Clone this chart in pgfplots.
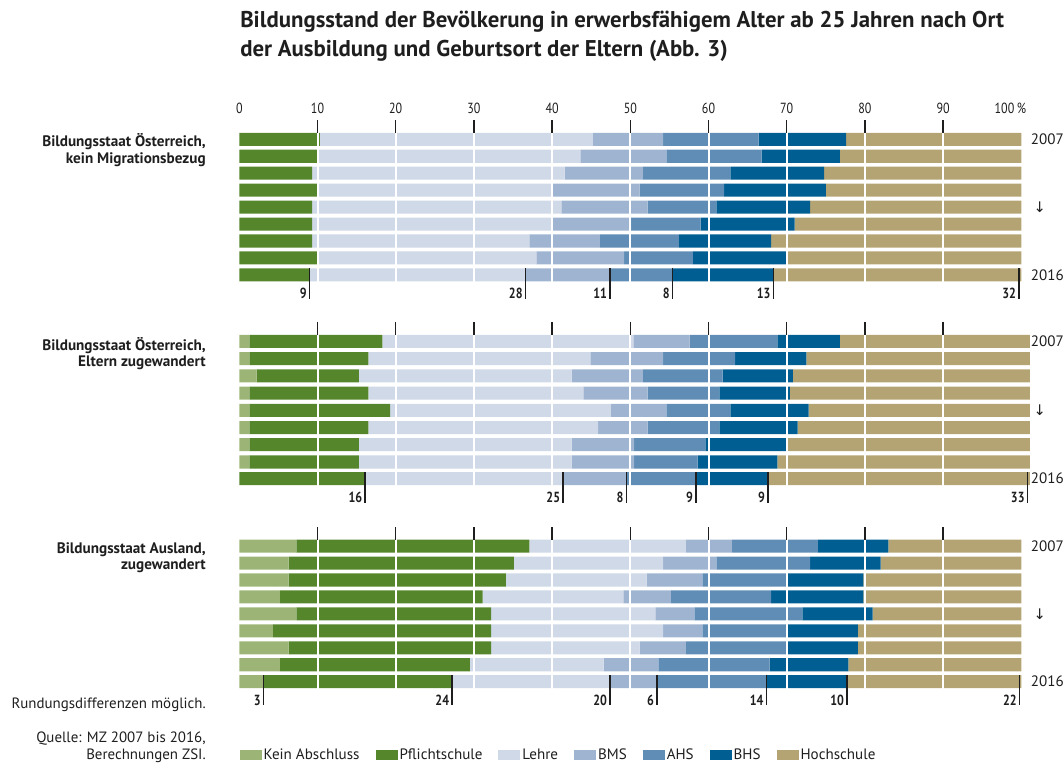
\documentclass[border=0pt]{standalone}
\usepackage{fontspec}
\setmainfont{PT Sans}
\newfontfamily\numfont{PT Sans}[FakeStretch=0.82]
\newfontfamily\symfont{DejaVu Sans}
\usepackage{pgfplots}
\pgfplotsset{compat=1.18}
\usepackage{pgfplotstable}

\definecolor{cKein}{HTML}{9CB576}
\definecolor{cPfl}{HTML}{55862B}
\definecolor{cLehre}{HTML}{D0D9E8}
\definecolor{cBMS}{HTML}{9EB4D1}
\definecolor{cAHS}{HTML}{5F8DB6}
\definecolor{cBHS}{HTML}{005E92}
\definecolor{cHoch}{HTML}{B5A473}
\definecolor{txt}{HTML}{1E1E1E}

% y = bar position (group 1: 2007..2016, group 2, group 3)
\pgfplotstableread{
y kein pfl lehre bms ahs bhs hoch
0 0 10.3 34.9 9.0 12.2 11.2 22.4
1 0 10.1 33.5 11.0 12.2 10.0 23.2
2 0 9.3 32.3 10.0 11.2 12.0 25.2
3 0 10.1 30.0 11.1 10.8 13.0 25.0
4 0 9.3 31.9 11.0 8.8 12.0 27.0
5 0 9.3 30.8 10.0 8.9 12.0 29.0
6 0 9.3 27.8 9.0 10.1 11.8 32.0
7 0 10.1 27.9 11.2 8.8 12.0 30.0
8 0 9.0 27.6 10.8 8.0 12.9 31.7
11.92 1.3 17.0 32.1 7.2 11.2 8.0 24.3
12.94 1.3 15.2 28.4 9.3 9.2 9.1 28.6
13.96 2.2 13.1 27.2 9.1 10.2 9.0 30.3
14.98 1.3 15.2 27.5 8.2 9.2 9.0 30.7
15.99 1.3 18.0 28.2 7.1 8.2 10.0 28.3
17.01 1.3 15.2 29.4 6.3 9.2 10.0 29.7
18.01 1.3 14.0 27.2 8.0 9.1 10.3 31.2
19.04 1.3 14.0 27.2 8.0 8.1 10.2 32.3
20.02 0 16.1 25.3 8.1 8.9 9.2 33.5
24 7.3 29.8 20.0 5.9 11.0 9.0 17.0
25 6.3 28.8 19.1 6.8 12.0 9.0 18.0
26 6.3 27.8 18.0 7.1 10.7 9.9 20.2
27 5.2 25.9 18.0 6.1 12.8 11.8 20.2
28 7.3 24.9 21.0 5.0 13.8 9.0 19.0
29 4.3 27.9 22.0 5.0 10.7 9.2 20.9
30 6.3 25.9 19.0 5.9 12.8 9.2 20.9
31 5.2 24.3 17.1 7.0 14.2 10.1 22.1
32 3.1 24.1 20.2 6.0 14.0 10.3 22.3
}\data

\newcommand{\tfont}{\numfont\fontsize{11}{13}\selectfont}
\newcommand{\yfont}{\fontsize{11.3}{13}\selectfont}
\newcommand{\annot}[4]{% x, top, bottom, label
  \draw[txt, line width=1.1pt] (axis cs:#1,#2) -- (axis cs:#1,#3);
  \node[anchor=base east, inner sep=0pt, xshift=-2pt, text=txt, font=\tfont\bfseries] at (axis cs:#1,#3) {#4};}

\newcommand{\decor}{%
  % white grid lines over the bars, black tick marks above each group
  \foreach \g in {10,20,30,40,50,60,70,80,90}{
    \draw[white, line width=1.5pt] (axis cs:\g,-0.5) -- (axis cs:\g,32.5);
    \draw[txt, line width=1.1pt] (axis cs:\g,-1.13) -- (axis cs:\g,-0.385);
    \draw[txt, line width=1.1pt] (axis cs:\g,10.8) -- (axis cs:\g,11.535);
    \draw[txt, line width=1.1pt] (axis cs:\g,22.88) -- (axis cs:\g,23.615);
  }
  \foreach \g in {0,10,20,30,40,50,60,70,80,90}{
    \node[anchor=base, inner sep=0pt, text=txt, font=\tfont] at (axis cs:\g,-1.534) {\g};
  }
  \node[anchor=base, inner sep=0pt, text=txt, font=\tfont] at (axis cs:98.6,-1.534) {100\,\%};
  % 2016 annotations
  \annot{9.0}{7.615}{9.42}{9}
  \annot{36.6}{7.615}{9.42}{28}
  \annot{47.4}{7.615}{9.42}{11}
  \annot{55.4}{7.615}{9.42}{8}
  \annot{68.3}{7.615}{9.42}{13}
  \annot{99.7}{7.615}{9.42}{32}
  \annot{16.1}{19.635}{21.45}{16}
  \annot{41.4}{19.635}{21.45}{25}
  \annot{49.5}{19.635}{21.45}{8}
  \annot{58.4}{19.635}{21.45}{9}
  \annot{67.6}{19.635}{21.45}{9}
  \annot{100.8}{19.635}{21.45}{33}
  \annot{3.1}{31.615}{33.38}{3}
  \annot{27.2}{31.615}{33.38}{24}
  \annot{47.4}{31.615}{33.38}{20}
  \annot{53.4}{31.615}{33.38}{6}
  \annot{67.4}{31.615}{33.38}{14}
  \annot{77.7}{31.615}{33.38}{10}
  \annot{99.8}{31.615}{33.38}{22}
  % year labels
  \foreach \g in {0,11.92,24}{
    \node[anchor=west, inner sep=0pt, xshift=7pt, text=txt, font=\yfont] at (axis cs:100,\g) {2007};
  }
  \foreach \g in {8,20.02,32}{
    \node[anchor=west, inner sep=0pt, xshift=7pt, text=txt, font=\yfont] at (axis cs:100,\g) {2016};
  }
  \foreach \g in {4,15.99,28}{
    \node[anchor=west, inner sep=0pt, xshift=9pt, text=txt, font=\symfont\fontsize{11}{13}\selectfont] at (axis cs:100,\g) {↓};
  }
}

\begin{document}
\begin{tikzpicture}
\begin{scope}[x=0.75pt,y=-0.75pt]
\path[use as bounding box] (0,0) rectangle (1064,765);
\end{scope}
\begin{axis}[
  at={(179.475pt,-98.1pt)}, anchor=north west,
  scale only axis, width=586.5pt, height=419.5pt,
  xmin=0, xmax=100, ymin=-0.5, ymax=32.5, y dir=reverse,
  xbar stacked, bar width=0.77,
  axis line style={draw=none}, tick style={draw=none},
  xtick=\empty, ytick=\empty, clip=false,
  legend columns=7,
  legend style={at={(0,-0.1159)}, anchor=west, draw=none, fill=none,
    inner sep=0pt, font=\fontsize{11.3}{13}\selectfont, text=txt,
    nodes={inner sep=1.5pt},
    /tikz/every even column/.append style={column sep=10.5pt},
    /tikz/every odd column/.append style={column sep=0pt}},
  legend cell align=left,
  legend image code/.code={\fill[#1] (0pt,-3.4pt) rectangle (16.5pt,3.4pt);},
  after end axis/.code={\decor},
]
\addplot[fill=cKein, draw=none] table[x=kein, y=y] {\data};
\addplot[fill=cPfl, draw=none] table[x=pfl, y=y] {\data};
\addplot[fill=cLehre, draw=none] table[x=lehre, y=y] {\data};
\addplot[fill=cBMS, draw=none] table[x=bms, y=y] {\data};
\addplot[fill=cAHS, draw=none] table[x=ahs, y=y] {\data};
\addplot[fill=cBHS, draw=none] table[x=bhs, y=y] {\data};
\addplot[fill=cHoch, draw=none] table[x=hoch, y=y] {\data};
\legend{Kein Abschluss, Pflichtschule, Lehre, BMS, AHS, BHS, Hochschule}
\end{axis}

\begin{scope}[x=0.75pt,y=-0.75pt, every node/.style={inner sep=0pt, text=txt}]
\node[anchor=base west, font=\bfseries\fontsize{17.1}{20}\selectfont] at (240,27.3)
  {Bildungsstand der Bevölkerung in erwerbsfähigem Alter ab 25 Jahren nach Ort};
\node[anchor=base west, font=\bfseries\fontsize{17.1}{20}\selectfont] at (240,56.7)
  {der Ausbildung und Geburtsort der Eltern (Abb. 3)};

\node[anchor=base east, font=\bfseries\fontsize{11.4}{13}\selectfont] at (206,146.5) {Bildungsstaat Österreich,};
\node[anchor=base east, font=\bfseries\fontsize{11.4}{13}\selectfont] at (206,163.5) {kein Migrationsbezug};
\node[anchor=base east, font=\bfseries\fontsize{11.4}{13}\selectfont] at (206,350) {Bildungsstaat Österreich,};
\node[anchor=base east, font=\bfseries\fontsize{11.4}{13}\selectfont] at (206,366.7) {Eltern zugewandert};
\node[anchor=base east, font=\bfseries\fontsize{11.4}{13}\selectfont] at (206,553.5) {Bildungsstaat Ausland,};
\node[anchor=base east, font=\bfseries\fontsize{11.4}{13}\selectfont] at (206,569.5) {zugewandert};

\node[anchor=base east, font=\fontsize{11.2}{13}\selectfont] at (206,708) {Rundungsdifferenzen möglich.};
\node[anchor=base east, font=\fontsize{11.2}{13}\selectfont] at (206,742.5) {Quelle: MZ 2007 bis 2016,};
\node[anchor=base east, font=\fontsize{11.2}{13}\selectfont] at (206,759.5) {Berechnungen ZSI.};
\end{scope}
\end{tikzpicture}
\end{document}
